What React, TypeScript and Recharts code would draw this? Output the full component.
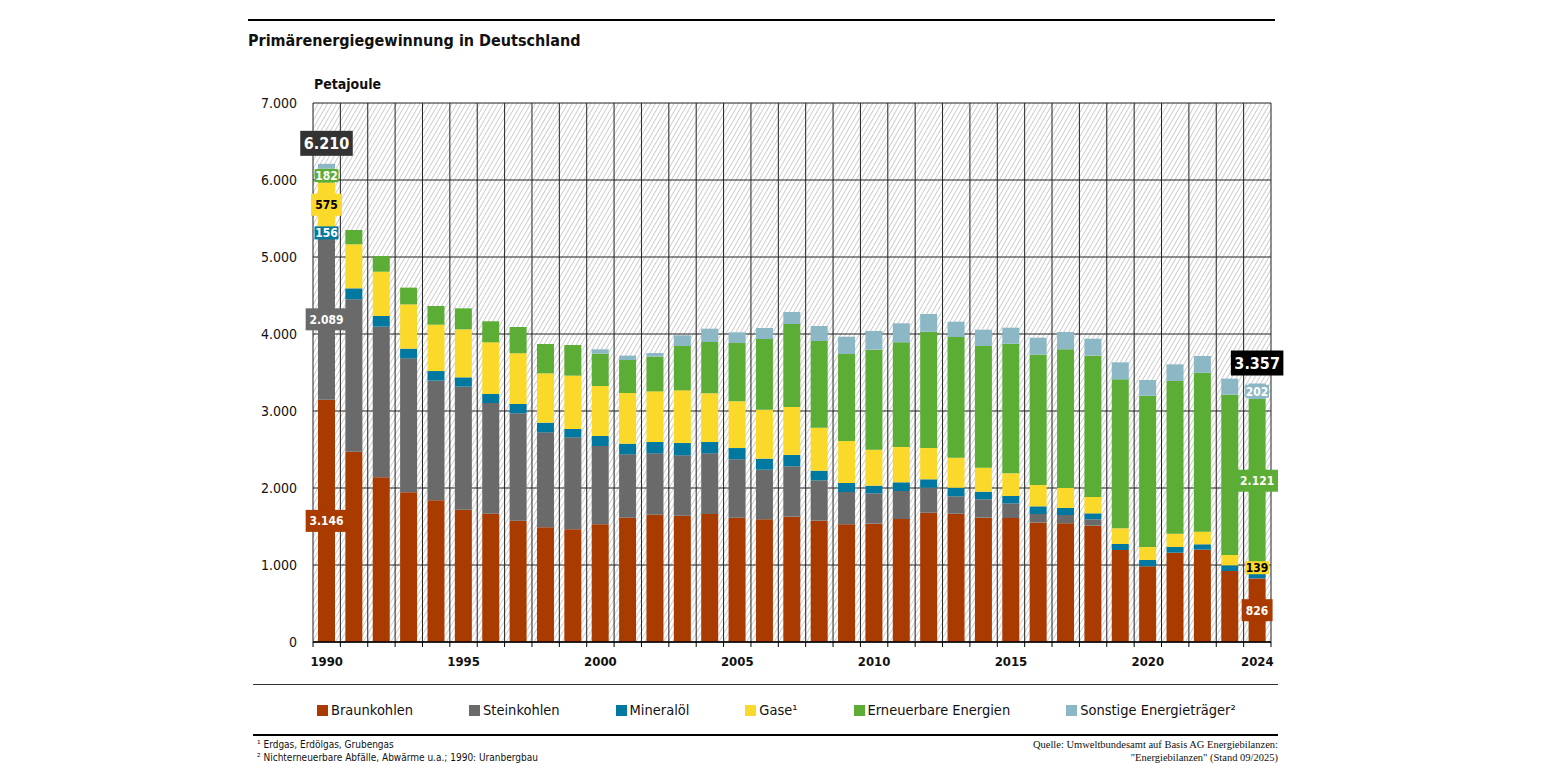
import { BarChart, Bar, XAxis, YAxis, CartesianGrid, LabelList } from 'recharts';

const FONT = "'DejaVu Sans Condensed', 'Roboto', sans-serif";

const years = [
  1990, 1991, 1992, 1993, 1994, 1995, 1996, 1997, 1998, 1999,
  2000, 2001, 2002, 2003, 2004, 2005, 2006, 2007, 2008, 2009,
  2010, 2011, 2012, 2013, 2014, 2015, 2016, 2017, 2018, 2019,
  2020, 2021, 2022, 2023, 2024,
];

const braunkohlen = [
  3146, 2472, 2139, 1944, 1840, 1719, 1667, 1576, 1489, 1463,
  1528, 1615, 1654, 1641, 1662, 1615, 1593, 1628, 1576, 1528,
  1537, 1597, 1679, 1666, 1615, 1610, 1550, 1541, 1511, 1195,
  983, 1160, 1199, 922, 826,
];
const steinkohlen = [
  2089, 1979, 1956, 1740, 1554, 1597, 1437, 1394, 1234, 1195,
  1017, 822, 796, 783, 788, 758, 645, 653, 524, 420,
  394, 364, 325, 226, 238, 191, 112, 108, 82, 0,
  0, 0, 0, 0, 0,
];
const mineraloel = [
  156, 142, 139, 126, 125, 121, 117, 121, 125, 108,
  130, 139, 147, 160, 147, 146, 143, 148, 125, 117,
  99, 113, 109, 112, 99, 95, 100, 91, 78, 78,
  82, 74, 70, 74, 69,
];
const gase = [
  575, 572, 575, 575, 602, 624, 671, 658, 641, 693,
  650, 658, 658, 684, 632, 607, 636, 623, 559, 545,
  468, 458, 406, 390, 312, 294, 277, 260, 212, 203,
  169, 172, 163, 134, 139,
];
const erneuerbare = [
  182, 186, 204, 217, 243, 272, 273, 342, 381, 398,
  420, 428, 451, 576, 667, 757, 918, 1078, 1125, 1130,
  1299, 1360, 1511, 1567, 1580, 1684, 1692, 1801, 1836, 1935,
  1965, 1984, 2065, 2082, 2121,
];
const sonstige = [
  62, 0, 0, 0, 0, 0, 0, 0, 0, 0,
  56, 57, 47, 139, 173, 139, 143, 156, 195, 225,
  242, 247, 230, 199, 212, 208, 221, 225, 220, 221,
  204, 216, 217, 208, 202,
];

const yTicks = [0, 1000, 2000, 3000, 4000, 5000, 6000, 7000];
const yearLabels = [1990, 1995, 2000, 2005, 2010, 2015, 2020, 2024];
// years whose bars carry value labels
const labelledYears = [1990, 2024];

const series = [
  { key: 'Braunkohlen', label: 'Braunkohlen', values: braunkohlen, color: '#a93a00', text: '#fff' },
  { key: 'Steinkohlen', label: 'Steinkohlen', values: steinkohlen, color: '#6a6a6a', text: '#fff' },
  { key: 'Mineraloel', label: 'Mineralöl', values: mineraloel, color: '#00789f', text: '#fff' },
  { key: 'Gase', label: 'Gase¹', values: gase, color: '#fad92b', text: '#000' },
  { key: 'Erneuerbare', label: 'Erneuerbare Energien', values: erneuerbare, color: '#5cad35', text: '#fff' },
  { key: 'Sonstige', label: 'Sonstige Energieträger²', values: sonstige, color: '#8cb8c6', text: '#fff' },
];

const data = years.map((year, i) => {
  const row: any = { year };
  const labelled = labelledYears.includes(year);
  let total = 0;
  series.forEach((s) => {
    row[s.key] = s.values[i];
    if (labelled && s.values[i] >= 100) row[s.key + 'Label'] = s.values[i];
    total += s.values[i];
  });
  if (labelled) row.totalLabel = total;
  return row;
});

const fmt = (v: number) => String(Math.round(v)).replace(/\B(?=(\d{3})+(?!\d))/g, '.');

const textWidth = (t: string) => {
  let w = 0;
  for (const c of t) w += c === '.' ? 3.5 : 7.3;
  return w;
};

const segmentLabel = (color: string, textColor: string) => (props: any) => {
  const { value } = props;
  if (value === undefined || value === null) return null;
  const vb = props.viewBox || props;
  const cx = vb.x + vb.width / 2;
  const cy = vb.y + vb.height / 2;
  const txt = fmt(value);
  const tall = Math.abs(vb.height) >= 20;
  const tw = textWidth(txt);
  const w = tall ? tw + 9 : Math.max(vb.width, tw + 2);
  const h = tall ? 22 : 13;
  return (
    <g>
      <rect x={cx - w / 2} y={cy - h / 2} width={w} height={h} fill={color} />
      <text x={cx} y={cy} dy="0.36em" textAnchor="middle" fill={textColor}
        fontSize={12} fontWeight="bold" fontFamily={FONT}>{txt}</text>
    </g>
  );
};

const totalLabel = (props: any) => {
  const { value } = props;
  if (value === undefined || value === null) return null;
  const vb = props.viewBox || props;
  const cx = vb.x + vb.width / 2;
  const txt = fmt(value);
  const w = textWidth(txt) * 1.3 + 10;
  const h = 25;
  const top = vb.y - 8 - h;
  const first = value === data[0].totalLabel;
  return (
    <g>
      <rect x={cx - w / 2} y={top} width={w} height={h} fill={first ? '#333' : '#000'} />
      <text x={cx} y={top + h / 2} dy="0.36em" textAnchor="middle" fill="#fff"
        fontSize={16} fontWeight="bold" fontFamily={FONT}>{txt}</text>
    </g>
  );
};

const lastYear = years[years.length - 1];
const axisTicks = years.flatMap((y) => [y - 0.5, y]).concat([lastYear + 0.5]);
const gridTicks = years.map((y) => y - 0.5).concat([lastYear + 0.5]);
const xDomain = [gridTicks[0], gridTicks[gridTicks.length - 1]];

const YearTick = (props: any) => {
  const { x, y, payload } = props;
  const v = payload.value;
  if (Number.isInteger(v)) {
    if (!yearLabels.includes(v)) return <g />;
    return (
      <text x={x} y={y + 24} textAnchor="middle" fontSize={13} fontWeight="bold"
        fill="#111" fontFamily={FONT}>{v}</text>
    );
  }
  return <line x1={x} x2={x} y1={y} y2={y + 5} stroke="#000" strokeWidth={1} />;
};

export default function App() {
  return (
    <div style={{ position: 'relative', width: 1529, height: 760, fontFamily: FONT, color: '#111' }}>
      <svg width={0} height={0} style={{ position: 'absolute' }}>
        <defs>
          <pattern id="hatch" width="4" height="4" patternUnits="userSpaceOnUse" patternTransform="rotate(30)">
            <rect width="4" height="4" fill="#fff" />
            <line x1="0.5" y1="0" x2="0.5" y2="4" stroke="#cdcdcd" strokeWidth="1" />
          </pattern>
        </defs>
      </svg>

      <div style={{ position: 'absolute', left: 240, top: 11, width: 1027, height: 2, background: '#000' }} />
      <div style={{ position: 'absolute', left: 240, top: 22, lineHeight: '22px', fontSize: 16, fontWeight: 'bold' }}>
        Primärenergiegewinnung in Deutschland
      </div>
      <div style={{ position: 'absolute', left: 306, top: 67, lineHeight: '18px', fontSize: 14, fontWeight: 'bold' }}>
        Petajoule
      </div>

      <div style={{ position: 'absolute', left: 0, top: 0 }}>
        <BarChart width={1529} height={700} data={data}
          margin={{ top: 95, right: 266, bottom: 36, left: 245 }}>
          <XAxis xAxisId="num" dataKey="year" type="number" domain={xDomain}
            allowDataOverflow ticks={axisTicks} interval={0} height={30}
            tickLine={false} tickSize={0} tickMargin={0} tick={<YearTick />}
            axisLine={{ stroke: '#000', strokeWidth: 1.5 }} />
          <XAxis xAxisId="cat" dataKey="year" type="category" hide height={0} />
          <XAxis xAxisId="grid" dataKey="year" type="number" domain={xDomain}
            allowDataOverflow ticks={gridTicks} interval={0} hide height={0} />
          <YAxis domain={[0, 7000]} ticks={yTicks} width={60} axisLine={false} tickLine={false}
            tickSize={0} tickMargin={16} tickFormatter={fmt}
            tick={{ fontSize: 14, fill: '#111', fontFamily: FONT }} />
          <CartesianGrid xAxisId="grid" fill="url(#hatch)" fillOpacity={1}
            stroke="#222" strokeWidth={1} />
          {series.map((s, i) => (
            <Bar key={s.key} dataKey={s.key} stackId="a" xAxisId="cat" fill={s.color}
              barSize={17} isAnimationActive={false}>
              <LabelList dataKey={s.key + 'Label'} content={segmentLabel(s.color, s.text)} />
              {i === series.length - 1 && <LabelList dataKey="totalLabel" content={totalLabel} />}
            </Bar>
          ))}
        </BarChart>
      </div>

      <div style={{ position: 'absolute', left: 245, top: 676, width: 1025, height: 1, background: '#333' }} />
      <div style={{ position: 'absolute', left: 309, top: 693, display: 'flex', gap: 56, fontSize: 14.5, lineHeight: '18px', whiteSpace: 'nowrap' }}>
        {series.map((s) => (
          <div key={s.key} style={{ display: 'flex', alignItems: 'center' }}>
            <span style={{ display: 'inline-block', width: 11, height: 11, background: s.color, marginRight: 3 }} />
            <span>{s.label}</span>
          </div>
        ))}
      </div>
      <div style={{ position: 'absolute', left: 245, top: 726, width: 1025, height: 2, background: '#000' }} />

      <div style={{ position: 'absolute', left: 249, top: 730, fontSize: 10, lineHeight: '13px' }}>
        <div>¹ Erdgas, Erdölgas, Grubengas</div>
        <div>² Nichterneuerbare Abfälle, Abwärme u.a.; 1990: Uranbergbau</div>
      </div>
      <div style={{ position: 'absolute', right: 259, top: 730, fontSize: 10.5, lineHeight: '13px', textAlign: 'right', fontFamily: "'Liberation Serif', serif" }}>
        <div>Quelle: Umweltbundesamt auf Basis AG Energiebilanzen:</div>
        <div>"Energiebilanzen" (Stand 09/2025)</div>
      </div>
    </div>
  );
}
